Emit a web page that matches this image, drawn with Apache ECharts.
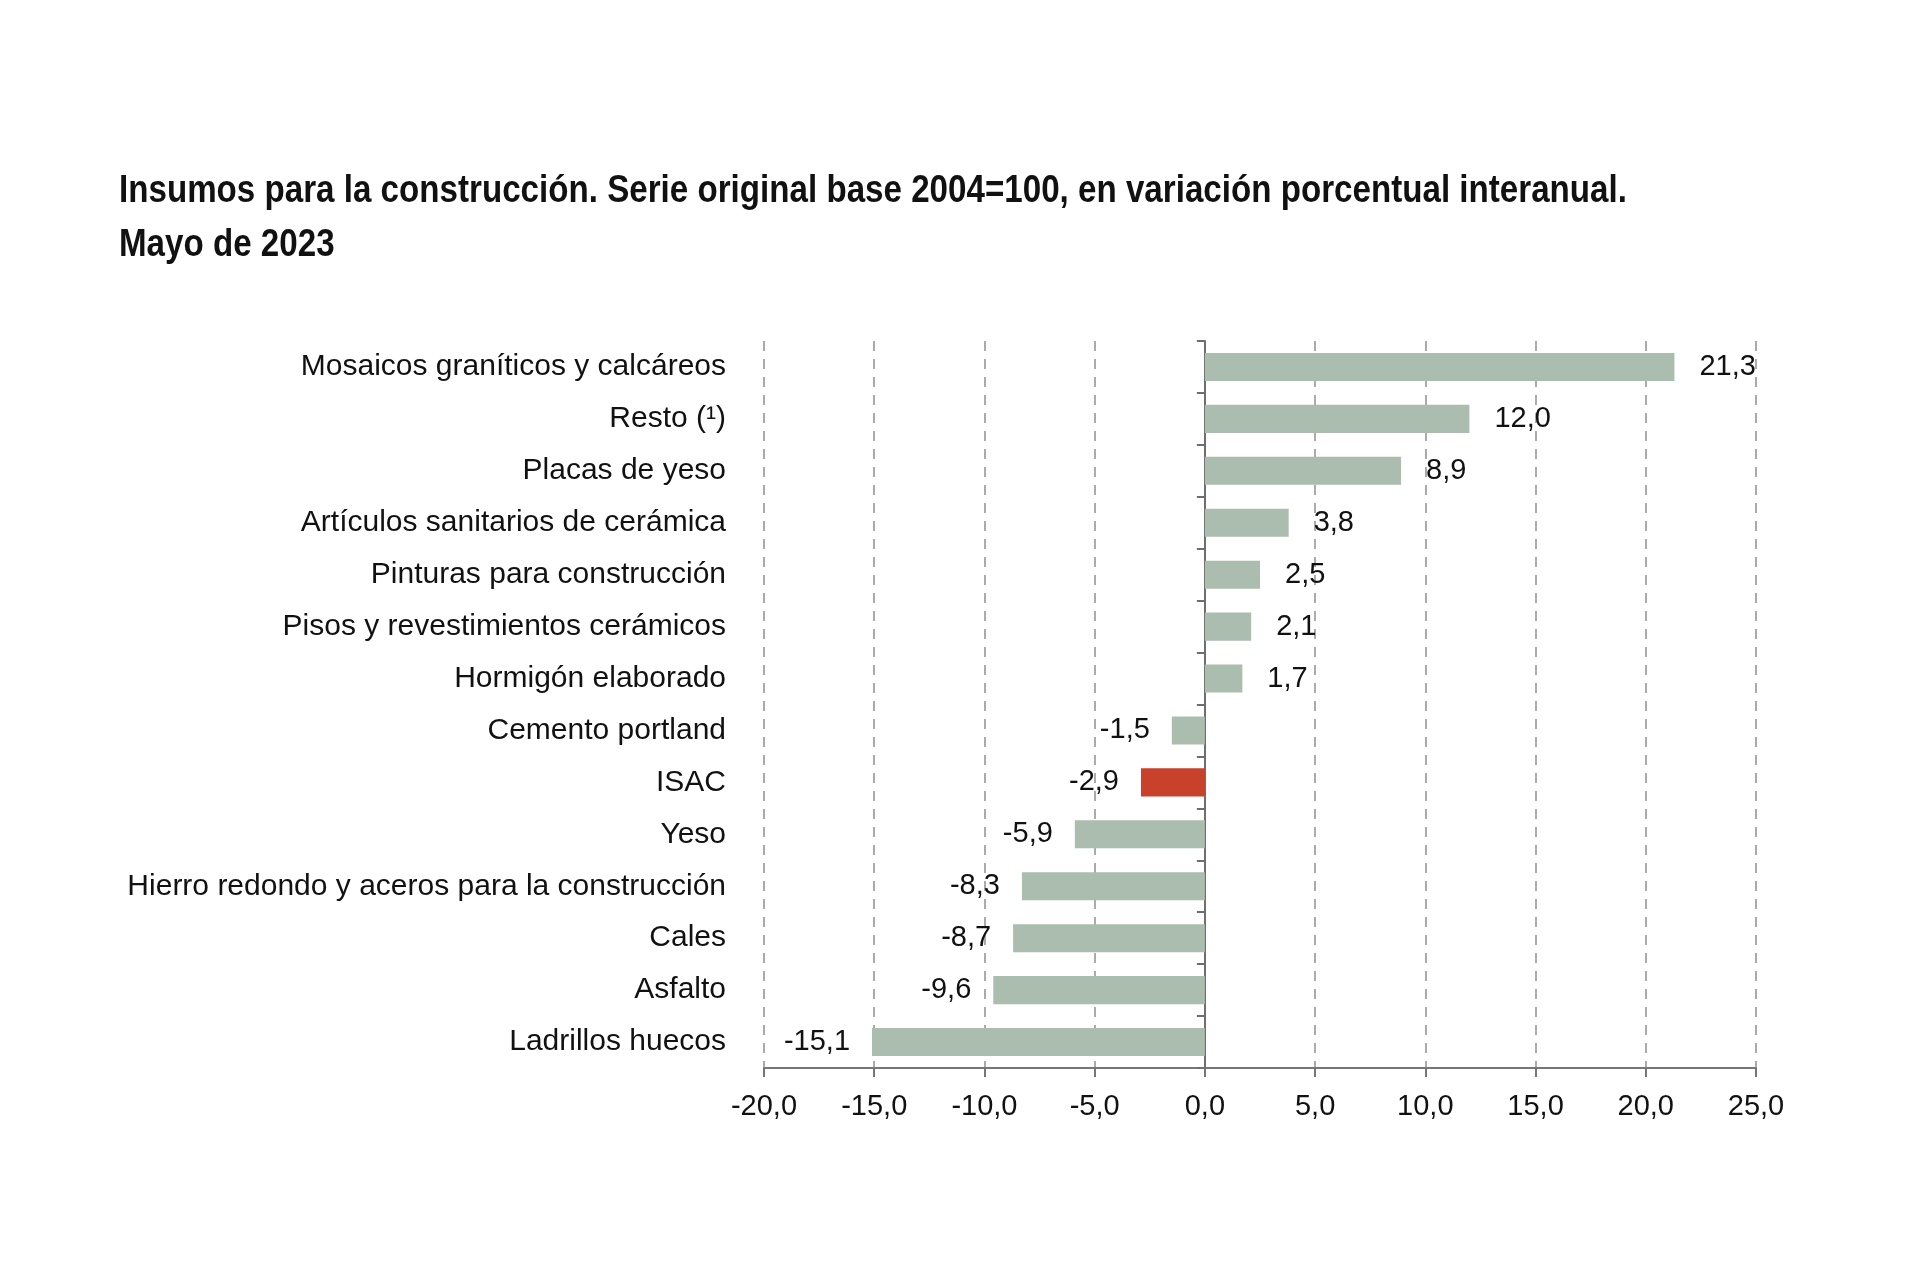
<!DOCTYPE html>
<html>
<head>
<meta charset="utf-8">
<script src="https://cdn.jsdelivr.net/npm/echarts@6/dist/echarts.min.js"></script>
<style>
html,body{margin:0;padding:0;background:#fff;}
#chart{width:1920px;height:1275px;}
</style>
</head>
<body>
<div id="chart"></div>
<script>
const categories = [
  'Mosaicos graníticos y calcáreos',
  'Resto (¹)',
  'Placas de yeso',
  'Artículos sanitarios de cerámica',
  'Pinturas para construcción',
  'Pisos y revestimientos cerámicos',
  'Hormigón elaborado',
  'Cemento portland',
  'ISAC',
  'Yeso',
  'Hierro redondo y aceros para la construcción',
  'Cales',
  'Asfalto',
  'Ladrillos huecos'
];
const values = [21.3, 12.0, 8.9, 3.8, 2.5, 2.1, 1.7, -1.5, -2.9, -5.9, -8.3, -8.7, -9.6, -15.1];
const highlight = 'ISAC';
const titleLines = [
  'Insumos para la construcción. Serie original base 2004=100, en variación porcentual interanual.',
  'Mayo de 2023'
];
const xMin = -20, xMax = 25, xStep = 5;

const barColor = '#abbdae';
const hlColor = '#c8412a';
const fmt = v => v.toFixed(1).replace('.', ',');

const chart = echarts.init(document.getElementById('chart'));
const font = 'Liberation Sans, Arial, Helvetica, sans-serif';

const titleStyle = {
  fontFamily: 'Liberation Sans, Arial, sans-serif',
  fontWeight: 'bold',
  fontSize: 39,
  fill: '#111111',
  verticalAlign: 'top',
  align: 'left'
};

chart.setOption({
  backgroundColor: '#ffffff',
  animation: false,
  graphic: titleLines.map((t, i) => ({
    type: 'text',
    x: 119,
    y: 172 + i * 54,
    scaleX: 0.85,
    style: Object.assign({ text: t }, titleStyle)
  })),
  grid: { left: 764, right: 164, top: 341, bottom: 207, containLabel: false },
  xAxis: {
    type: 'value',
    min: xMin, max: xMax, interval: xStep,
    axisLine: { show: true, lineStyle: { color: '#767676', width: 2 } },
    axisTick: { show: true, length: 9, lineStyle: { color: '#767676', width: 2 } },
    axisLabel: {
      margin: 24,
      fontFamily: font, fontSize: 29, color: '#111111',
      formatter: v => fmt(v)
    },
    splitLine: {
      show: true,
      lineStyle: { color: '#ababab', width: 2, type: [10, 8] }
    }
  },
  yAxis: [
    {
      type: 'category',
      data: categories,
      inverse: true,
      position: 'left',
      axisLine: { show: false, onZero: false },
      axisTick: { show: false },
      axisLabel: {
        margin: 38,
        fontFamily: font, fontSize: 30, color: '#111111'
      },
      splitLine: { show: false }
    },
    {
      type: 'category',
      data: categories,
      inverse: true,
      position: 'left',
      axisLine: { show: true, onZero: true, onZeroAxisIndex: 0, lineStyle: { color: '#6e6e6e', width: 2 } },
      axisTick: { show: true, length: 8, lineStyle: { color: '#6e6e6e', width: 2 } },
      axisLabel: { show: false },
      splitLine: { show: false }
    }
  ],
  series: [{
    type: 'bar',
    yAxisIndex: 0,
    barWidth: '54%',
    data: values.map((v, i) => ({
      value: v,
      itemStyle: { color: categories[i] === highlight ? hlColor : barColor },
      label: {
        show: true,
        position: v >= 0 ? 'right' : 'left',
        distance: v >= 0 ? 25 : 22
      }
    })),
    label: {
      fontFamily: font, fontSize: 29, color: '#111111',
      formatter: p => fmt(p.value)
    }
  }]
});
</script>
</body>
</html>
